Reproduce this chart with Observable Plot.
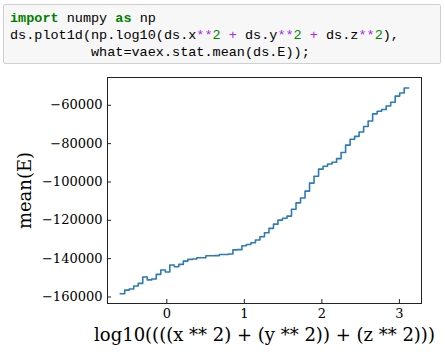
<!DOCTYPE html>
<html>
<head>
<meta charset="utf-8">
<script src="https://cdn.jsdelivr.net/npm/d3@7"></script>
<script src="https://cdn.jsdelivr.net/npm/@observablehq/plot@0.6"></script>
<style>
  html, body { margin: 0; padding: 0; background: #fff; width: 445px; height: 358px; overflow: hidden; }
  #cell {
    position: absolute; left: 3px; top: 4px; width: 438px; height: 60px;
    background: #f7f7f7; border: 1px solid #cfcfcf; border-radius: 2px; box-sizing: border-box;
  }
  #code {
    position: absolute; left: 6px; top: 5px;
    font-family: "Liberation Mono", "DejaVu Sans Mono", monospace; font-size: 13.5px; line-height: 17px; color: #000;
  }
  #code div { white-space: pre; height: 17px; }
  .kw { color: #008000; font-weight: bold; }
  .op { color: #aa22ff; }
  .num { color: #008800; }
  #chart { position: absolute; left: 0; top: 66px; }
</style>
</head>
<body>
<div id="cell"><div id="code"><div><span class="kw">import</span><span> numpy </span><span class="kw">as</span><span> np</span></div><div><span>ds.plot1d(np.log10(ds.x</span><span class="op">**</span><span class="num">2</span><span> </span><span class="op">+</span><span> ds.y</span><span class="op">**</span><span class="num">2</span><span> </span><span class="op">+</span><span> ds.z</span><span class="op">**</span><span class="num">2</span><span>),</span></div><div><span>          what=vaex.stat.mean(ds.E));</span></div></div></div>
<div id="chart"></div>
<script>
// Histogram bin grid (64 bins) and the mean(E) read for each bin
const binCount = 64;
const xStart = -0.601;
const xEnd = 3.12;
const meanE = [
  -158300, -156400, -155800, -154300, -152900, -149600, -151100, -150600, -148200, -145900,
  -147000, -143300, -144200, -143000, -141300, -140400, -140200, -139500, -139500, -138500,
  -138500, -138400, -137800, -137800, -137600, -135400, -135300, -133300, -132600, -131700,
  -130300, -128600, -126500, -124200, -122000, -119900, -118900, -117800, -114200, -110900,
  -108400, -104800, -100600, -97000, -93300, -91800, -90600, -89700, -87800, -84600,
  -80800, -77700, -76200, -73900, -71100, -68200, -64500, -63100, -62200, -60400,
  -58400, -55200, -53600, -51000
];
const xTicks = [0, 1, 2, 3];
const yTicks = [-160000, -140000, -120000, -100000, -80000, -60000];
const xLabel = "log10((((x ** 2) + (y ** 2)) + (z ** 2)))";
const yLabel = "mean(E)";

const binWidth = (xEnd - xStart) / binCount;
const rows = meanE.map((v, i) => ({x: xStart + i * binWidth, y: v}));
rows.push({x: xEnd, y: meanE[meanE.length - 1]});

const fmt = d => d < 0 ? "\u2212" + Math.abs(d) : String(d);

const chart = Plot.plot({
  width: 445,
  height: 292,
  marginLeft: 107,
  marginRight: 24,
  marginTop: 11,
  marginBottom: 55,
  style: {fontFamily: "'DejaVu Serif', serif", fontSize: "13px", color: "#000", background: "transparent"},
  x: {domain: [-0.765, 3.285]},
  y: {domain: [-163400, -45500]},
  marks: [
    Plot.frame({stroke: "#222", strokeWidth: 1}),
    Plot.axisX({ticks: xTicks, tickFormat: fmt, tickSize: -4, tickPadding: 9, label: null, stroke: "#222"}),
    Plot.axisY({ticks: yTicks, tickFormat: fmt, tickSize: -4, tickPadding: 9, label: null, stroke: "#222"}),
    Plot.line(rows, {x: "x", y: "y", curve: "step-after", stroke: "#2c7bb6", strokeWidth: 1.6}),
    Plot.text([xLabel], {frameAnchor: "bottom", dy: 37, text: d => d, fontSize: 18, fill: "#000"}),
    Plot.text([yLabel], {frameAnchor: "left", dx: -82, rotate: -90, textAnchor: "middle", text: d => d, fontSize: 18, fill: "#000"})
  ]
});
document.getElementById("chart").appendChild(chart);
</script>
</body>
</html>
